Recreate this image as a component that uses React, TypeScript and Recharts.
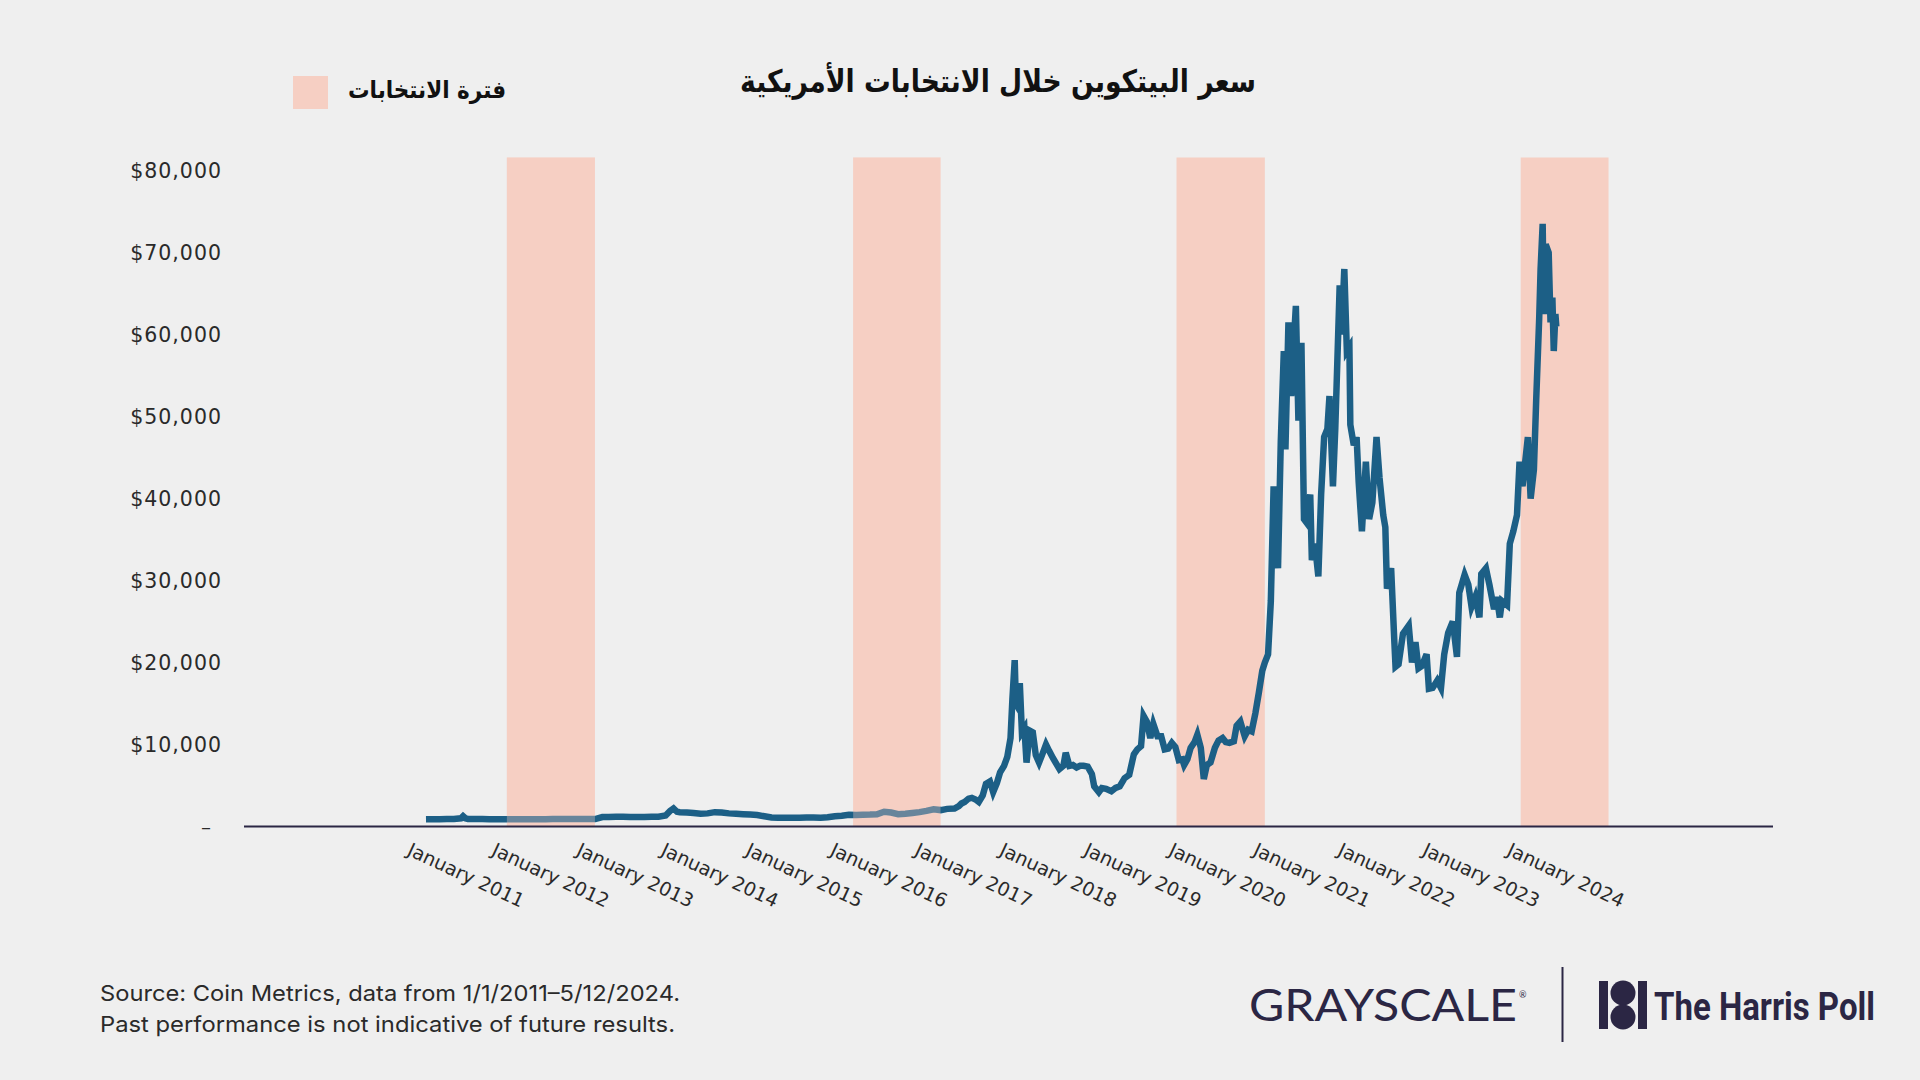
import React from "react";
import {
  ComposedChart,
  Line,
  XAxis,
  YAxis,
  ReferenceArea,
} from "recharts";

// Bitcoin price as plotted (USD)
const btc2011: [string, number][] = [
  ["2011-01-01", 880], ["2011-02-01", 890], ["2011-03-01", 890], ["2011-04-01", 900],
  ["2011-05-01", 910], ["2011-06-01", 1000], ["2011-06-10", 1250], ["2011-06-20", 1000],
  ["2011-07-01", 920], ["2011-08-01", 910], ["2011-09-01", 900], ["2011-10-01", 890],
  ["2011-11-01", 880], ["2011-12-01", 885],
];
const btc2012: [string, number][] = [
  ["2012-01-01", 890], ["2012-02-01", 890], ["2012-03-01", 890], ["2012-04-01", 890],
  ["2012-05-01", 895], ["2012-06-01", 895], ["2012-07-01", 900], ["2012-08-01", 910],
  ["2012-09-01", 905], ["2012-10-01", 905], ["2012-11-01", 905], ["2012-12-01", 905],
];
const btc2013: [string, number][] = [
  ["2013-01-01", 905], ["2013-02-01", 1150], ["2013-03-01", 1170], ["2013-04-01", 1200],
  ["2013-05-01", 1180], ["2013-06-01", 1170], ["2013-07-01", 1160], ["2013-08-01", 1170],
  ["2013-09-01", 1180], ["2013-10-01", 1200], ["2013-11-01", 1350], ["2013-11-20", 1900],
  ["2013-12-05", 2200], ["2013-12-20", 1800],
];
const btc2014: [string, number][] = [
  ["2014-01-01", 1750], ["2014-02-01", 1700], ["2014-03-01", 1650], ["2014-04-01", 1550],
  ["2014-05-01", 1600], ["2014-06-01", 1750], ["2014-07-01", 1700], ["2014-08-01", 1600],
  ["2014-09-01", 1550], ["2014-10-01", 1500], ["2014-11-01", 1450], ["2014-12-01", 1400],
];
const btc2015: [string, number][] = [
  ["2015-01-01", 1250], ["2015-02-01", 1100], ["2015-03-01", 1080], ["2015-04-01", 1070],
  ["2015-05-01", 1060], ["2015-06-01", 1080], ["2015-07-01", 1100], ["2015-08-01", 1090],
  ["2015-09-01", 1080], ["2015-10-01", 1120], ["2015-11-01", 1250], ["2015-12-01", 1300],
];
const btc2016: [string, number][] = [
  ["2016-01-01", 1420], ["2016-02-01", 1400], ["2016-03-01", 1420], ["2016-04-01", 1450],
  ["2016-05-01", 1500], ["2016-06-01", 1800], ["2016-07-01", 1700], ["2016-08-01", 1500],
  ["2016-09-01", 1550], ["2016-10-01", 1650], ["2016-11-01", 1750], ["2016-12-01", 1900],
];
const btc2017: [string, number][] = [
  ["2017-01-01", 2100], ["2017-02-01", 2000], ["2017-03-01", 2150], ["2017-04-01", 2200],
  ["2017-04-20", 2500], ["2017-05-01", 2800], ["2017-05-15", 3000], ["2017-06-01", 3400],
  ["2017-06-15", 3500], ["2017-07-01", 3300], ["2017-07-15", 3000], ["2017-08-01", 3800],
  ["2017-08-15", 5200], ["2017-09-01", 5500], ["2017-09-15", 4200], ["2017-10-01", 5300],
  ["2017-10-15", 6600], ["2017-11-01", 7400], ["2017-11-15", 8500], ["2017-11-29", 10800],
  ["2017-12-07", 15500], ["2017-12-17", 20300], ["2017-12-22", 15000],
];
const btc2018: [string, number][] = [
  ["2018-01-01", 14500], ["2018-01-08", 17500], ["2018-01-17", 11500], ["2018-01-28", 12000],
  ["2018-02-06", 7800], ["2018-02-20", 11700], ["2018-03-05", 11500], ["2018-03-18", 8700],
  ["2018-04-01", 7800], ["2018-04-15", 8800], ["2018-05-01", 10000], ["2018-05-15", 9200],
  ["2018-06-01", 8300], ["2018-06-28", 7000], ["2018-07-15", 7400], ["2018-07-25", 9000],
  ["2018-08-10", 7400], ["2018-08-25", 7500], ["2018-09-10", 7200], ["2018-09-25", 7400],
  ["2018-10-10", 7400], ["2018-10-28", 7300], ["2018-11-15", 6400], ["2018-11-25", 4900],
  ["2018-12-15", 4200], ["2018-12-28", 4700],
];
const btc2019: [string, number][] = [
  ["2019-01-15", 4600], ["2019-02-07", 4300], ["2019-02-25", 4700], ["2019-03-15", 4900],
  ["2019-04-05", 5900], ["2019-04-25", 6300], ["2019-05-15", 8800], ["2019-05-30", 9400],
  ["2019-06-15", 9800], ["2019-06-26", 13500], ["2019-07-10", 12800], ["2019-07-25", 10800],
  ["2019-08-07", 12500], ["2019-08-25", 11000], ["2019-09-10", 11000], ["2019-09-25", 9400],
  ["2019-10-10", 9500], ["2019-10-26", 10200], ["2019-11-10", 9700], ["2019-11-25", 8100],
  ["2019-12-10", 8200], ["2019-12-18", 7500],
];
const btc2020: [string, number][] = [
  ["2020-01-01", 8200], ["2020-01-15", 9600], ["2020-02-01", 10300], ["2020-02-13", 11200],
  ["2020-02-28", 9600], ["2020-03-12", 5800], ["2020-03-25", 7500], ["2020-04-10", 7800],
  ["2020-04-29", 9600], ["2020-05-15", 10500], ["2020-06-01", 10800], ["2020-06-15", 10300],
  ["2020-07-01", 10200], ["2020-07-20", 10400], ["2020-08-01", 12300], ["2020-08-17", 12800],
  ["2020-09-05", 11000], ["2020-09-20", 11800], ["2020-10-05", 11600], ["2020-10-21", 13800],
  ["2020-11-05", 16300], ["2020-11-20", 19000], ["2020-12-01", 20000], ["2020-12-15", 21000],
  ["2020-12-27", 27500],
];
const btc2021: [string, number][] = [
  ["2021-01-08", 41500], ["2021-01-15", 37000], ["2021-01-27", 31500], ["2021-02-08", 47000],
  ["2021-02-21", 58000], ["2021-02-28", 46000], ["2021-03-13", 61500], ["2021-03-25", 52500],
  ["2021-04-05", 59000], ["2021-04-14", 63500], ["2021-04-25", 49500], ["2021-05-08", 59000],
  ["2021-05-19", 37500], ["2021-06-01", 37000], ["2021-06-15", 40500], ["2021-06-22", 32500],
  ["2021-07-05", 34500], ["2021-07-20", 30500], ["2021-08-01", 40500], ["2021-08-14", 47500],
  ["2021-08-28", 48500], ["2021-09-06", 52500], ["2021-09-21", 41500], ["2021-10-01", 48500],
  ["2021-10-20", 66000], ["2021-10-28", 60000], ["2021-11-09", 68000], ["2021-11-20", 58000],
  ["2021-12-01", 58500], ["2021-12-05", 49000], ["2021-12-20", 46500],
];
const btc2022: [string, number][] = [
  ["2022-01-01", 47500], ["2022-01-10", 42000], ["2022-01-24", 36000], ["2022-02-10", 44500],
  ["2022-02-24", 37500], ["2022-03-10", 39500], ["2022-03-28", 47500], ["2022-04-10", 42500],
  ["2022-04-26", 38000], ["2022-05-05", 36500], ["2022-05-12", 29000], ["2022-05-30", 31500],
  ["2022-06-13", 22500], ["2022-06-18", 19500], ["2022-07-01", 19800], ["2022-07-20", 23500],
  ["2022-08-14", 24500], ["2022-08-28", 20000], ["2022-09-12", 22500], ["2022-09-25", 19300],
  ["2022-10-10", 19600], ["2022-10-30", 21000], ["2022-11-09", 16800], ["2022-11-25", 16900],
  ["2022-12-15", 17800], ["2022-12-31", 16900],
];
const btc2023: [string, number][] = [
  ["2023-01-14", 21000], ["2023-01-31", 23600], ["2023-02-20", 25000], ["2023-03-10", 20700],
  ["2023-03-20", 28500], ["2023-04-12", 30700], ["2023-04-28", 29500], ["2023-05-12", 26800],
  ["2023-05-28", 28000], ["2023-06-15", 25500], ["2023-06-23", 30800], ["2023-07-13", 31500],
  ["2023-07-28", 29500], ["2023-08-17", 26500], ["2023-08-29", 28000], ["2023-09-11", 25500],
  ["2023-09-20", 27500], ["2023-10-12", 27000], ["2023-10-24", 34500], ["2023-11-08", 36000],
  ["2023-11-24", 38000], ["2023-12-05", 44500], ["2023-12-18", 41500],
];
const btc2024: [string, number][] = [
  ["2024-01-10", 47500], ["2024-01-22", 40000], ["2024-02-05", 43500], ["2024-02-15", 52000],
  ["2024-02-28", 62000], ["2024-03-05", 68000], ["2024-03-14", 73500], ["2024-03-19", 62500],
  ["2024-03-27", 71000], ["2024-04-09", 70000], ["2024-04-17", 61500], ["2024-04-25", 64500],
  ["2024-05-01", 58000], ["2024-05-08", 62500], ["2024-05-12", 61000],
];

// US election periods (shaded)
const electionStart = ["2011-12-16", "2016-01-19", "2019-11-15", "2023-12-10"];
const electionEnd = ["2012-12-31", "2017-01-31", "2020-12-01", "2024-12-24"];

const yearTicks = [2011, 2012, 2013, 2014, 2015, 2016, 2017, 2018, 2019, 2020, 2021, 2022, 2023, 2024];
const priceTicks = [0, 10000, 20000, 30000, 40000, 50000, 60000, 70000, 80000];

const title = "سعر البيتكوين خلال الانتخابات الأمريكية";
const legendLabel = "فترة الانتخابات";
const sourceLine = "Source: Coin Metrics, data from 1/1/2011–5/12/2024.";
const disclaimerLine = "Past performance is not indicative of future results.";

// date string -> decimal year, for the numeric time axis
const toYear = (d: string) => {
  const [y, m, day] = d.split("-").map(Number);
  const start = Date.UTC(y, 0, 1);
  const next = Date.UTC(y + 1, 0, 1);
  return y + (Date.UTC(y, m - 1, day) - start) / (next - start);
};

const allPrices = [
  ...btc2011, ...btc2012, ...btc2013, ...btc2014, ...btc2015, ...btc2016, ...btc2017,
  ...btc2018, ...btc2019, ...btc2020, ...btc2021, ...btc2022, ...btc2023, ...btc2024,
];
const chartData = allPrices.map(([d, v]) => ({ x: toYear(d), price: v }));

const LINE = "#1c5f86";
const BAND = "#f6cfc3";
const INK = "#2a2a2a";
const NAVY = "#2b2644";

const XTick = (props: any) => {
  const { x, y, payload } = props;
  const ax = x - 20;
  const ay = y + 28;
  return (
    <text
      x={ax}
      y={ay}
      transform={`rotate(25 ${ax} ${ay})`}
      textAnchor="start"
      fontFamily="'DejaVu Sans', sans-serif"
      fontSize={19}
      fill={INK}
    >
      {`January ${Math.round(payload.value)}`}
    </text>
  );
};

const YTick = (props: any) => {
  const { x, y, payload } = props;
  if (payload.value === 0) {
    return (
      <text x={x - 33} y={y} dy="0.35em" textAnchor="end" fontFamily="'DejaVu Sans', sans-serif" fontSize={20} fill={INK}>
        –
      </text>
    );
  }
  return (
    <text
      x={x - 22}
      y={y}
      dy="0.36em"
      textAnchor="end"
      fontFamily="'DejaVu Sans', sans-serif"
      fontSize={20.5}
      letterSpacing={1}
      fill={INK}
    >
      {`$${payload.value.toLocaleString("en-US")}`}
    </text>
  );
};

export default function App() {
  return (
    <div style={{ position: "absolute", left: 0, top: 0, width: 1920, height: 1080, background: "#efefef", overflow: "hidden" }}>
      <div style={{ position: "absolute", left: 0, top: 0 }}>
        <ComposedChart
          width={1920}
          height={1080}
          data={chartData}
          margin={{ top: 157.5, right: 147, bottom: 0, left: 0 }}
        >
          <XAxis
            dataKey="x"
            type="number"
            domain={[2008.849, 2026.922]}
            ticks={yearTicks}
            allowDataOverflow
            height={253.5}
            tickSize={0}
            tickMargin={0}
            tickLine={false}
            axisLine={{ stroke: NAVY, strokeWidth: 2 }}
            tick={<XTick />}
            interval={0}
          />
          <YAxis
            type="number"
            domain={[0, 81600]}
            ticks={priceTicks}
            allowDataOverflow
            width={244}
            tickSize={0}
            tickMargin={0}
            axisLine={false}
            tickLine={false}
            tick={<YTick />}
            interval={0}
          />
          {electionStart.map((s, i) => (
            <ReferenceArea
              key={`band-${i}`}
              x1={toYear(s)}
              x2={toYear(electionEnd[i])}
              y1={0}
              y2={81600}
              fill={BAND}
              fillOpacity={1}
              stroke="none"
            />
          ))}
          <Line
            dataKey="price"
            type="linear"
            stroke={LINE}
            strokeWidth={6.5}
            dot={false}
            activeDot={false}
            isAnimationActive={false}
          />
          {/* the first two bands sit over the line in the original */}
          {electionStart.slice(0, 2).map((s, i) => (
            <ReferenceArea
              key={`over-${i}`}
              x1={toYear(s)}
              x2={toYear(electionEnd[i])}
              y1={0}
              y2={81600}
              fill={BAND}
              fillOpacity={0.35}
              stroke="none"
              zIndex={450}
            />
          ))}
        </ComposedChart>
      </div>

      <svg width={1920} height={1080} style={{ position: "absolute", left: 0, top: 0, pointerEvents: "none" }}>
        {/* title */}
        <text
          x={998}
          y={92}
          textAnchor="middle"
          direction="rtl"
          fontFamily="'DejaVu Sans', sans-serif"
          fontWeight="bold"
          fontSize={31}
          textLength={516}
          lengthAdjust="spacingAndGlyphs"
          fill="#111"
        >
          {title}
        </text>

        {/* legend */}
        <rect x={293} y={76} width={35} height={33} fill={BAND} />
        <text
          x={427}
          y={98}
          textAnchor="middle"
          direction="rtl"
          fontFamily="'DejaVu Sans', sans-serif"
          fontWeight="bold"
          fontSize={24}
          textLength={158}
          lengthAdjust="spacingAndGlyphs"
          fill="#111"
        >
          {legendLabel}
        </text>

        {/* footnotes */}
        <text x={100} y={1001} fontFamily="Inter, sans-serif" fontSize={22} fill={INK} textLength={580} lengthAdjust="spacingAndGlyphs">
          {sourceLine}
        </text>
        <text x={100} y={1032} fontFamily="Inter, sans-serif" fontSize={22} fill={INK} textLength={575} lengthAdjust="spacingAndGlyphs">
          {disclaimerLine}
        </text>

        {/* logos */}
        <text x={1249} y={1021} fontFamily="Lato, sans-serif" fontWeight={400} fontSize={44} fill={NAVY} textLength={268} lengthAdjust="spacingAndGlyphs">
          GRAYSCALE
        </text>
        <text x={1519} y={998} fontFamily="Lato, sans-serif" fontSize={9} fill={NAVY}>®</text>
        <line x1={1562.5} y1={967} x2={1562.5} y2={1042} stroke={NAVY} strokeWidth={2} />
        <rect x={1599} y={981} width={9} height={48} fill={NAVY} />
        <rect x={1638} y={981} width={9} height={48} fill={NAVY} />
        <circle cx={1623} cy={993} r={12.5} fill={NAVY} />
        <circle cx={1623} cy={1017} r={12.5} fill={NAVY} />
        <text x={1654} y={1020} fontFamily="Roboto, sans-serif" fontWeight="bold" fontSize={38} fill={NAVY} textLength={221} lengthAdjust="spacingAndGlyphs">
          The Harris Poll
        </text>
      </svg>
    </div>
  );
}
